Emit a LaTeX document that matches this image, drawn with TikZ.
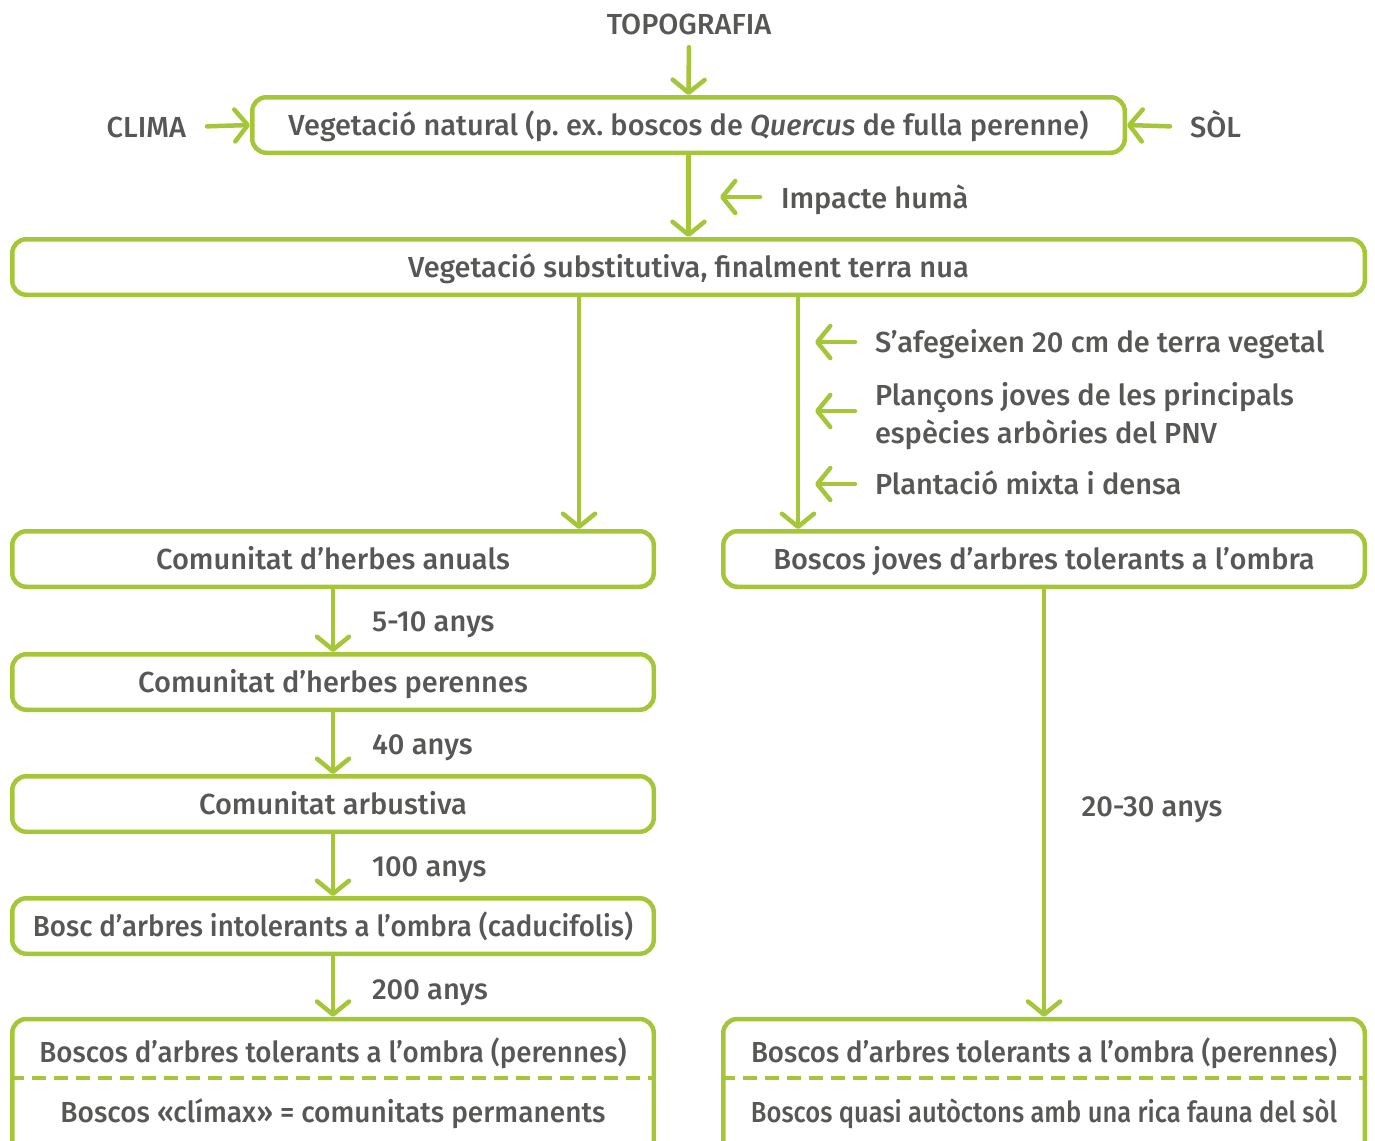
\documentclass[tikz,border=0pt]{standalone}
\usepackage{fontspec}
\usepackage{graphicx}
\IfFontExistsTF{Fira Sans Medium}{%
  \IfFontExistsTF{Fira Sans Medium Italic}{%
    \setmainfont{Fira Sans Medium}[ItalicFont={Fira Sans Medium Italic}]}{%
    \setmainfont{Fira Sans Medium}[ItalicFont={Fira Sans Italic}]}%
  \newcommand{\fsz}{29}}{%
  \setmainfont{Fira Sans}\newcommand{\fsz}{29.5}}
\usetikzlibrary{arrows.meta}
\definecolor{grn}{HTML}{A6C63A}
\definecolor{txt}{HTML}{575756}
\newcommand{\fitw}[2]{\resizebox{#1}{\height}{#2}}
\begin{document}
\begin{tikzpicture}[x=1pt,y=-1pt, font=\fontsize{\fsz}{38}\selectfont, text=txt,
 box/.style={draw=grn, line width=4.5pt, rounded corners=14pt, minimum height=55.5pt, inner sep=0pt, text height=20.3pt, text depth=0pt},
 lbox/.style={box, minimum width=641.5pt},
 arr/.style={draw=grn, line width=4.5pt, line cap=round, -{Straight Barb[length=13pt,width=32pt,line cap=round,line join=round]}},
 lbl/.style={inner sep=0pt, outer sep=0pt, text height=20.3pt, text depth=0pt},
 dsh/.style={draw=grn, line width=4.5pt, dash pattern=on 14pt off 8pt}]
\useasboundingbox (0,0) rectangle (1375,1140);
\clip (0,0) rectangle (1375,1140);
% top
\node[lbl] (topo) at (689,24) {TOPOGRAFIA};
\node[box, minimum width=872.5pt] (b1) at (688.5,125) {\fitw{800pt}{Vegetació natural (p.\ ex.\ boscos de \textit{Quercus} de fulla perenne)}};
\node[lbl, anchor=east] (clima) at (186,127) {CLIMA};
\node[lbl, anchor=west] (sol) at (1190,127) {SÒL};
\node[lbl, anchor=west] (imp) at (781,198) {Impacte humà};
\node[box, minimum width=1352.5pt] (b2) at (688.5,267) {Vegetació substitutiva, finalment terra nua};
\draw[arr, shorten <=13pt] (topo.south) -- (b1.north);
\draw[arr, shorten <=21pt] (clima.east) -- (b1.west);
\draw[arr, shorten <=20pt] (sol.west) -- (b1.east);
\draw[arr] (b1.south) -- (b2.north);
\coordinate (ih) at (720,197);
\draw[arr, shorten <=21pt] (imp.west |- ih) -- (ih);
% left column
\node[lbox] (l1) at (333,559) {Comunitat d’herbes anuals};
\node[lbox] (l2) at (333,682) {Comunitat d’herbes perennes};
\node[lbox] (l3) at (333,804) {Comunitat arbustiva};
\node[lbox] (l4) at (333,926) {\fitw{600pt}{Bosc d’arbres intolerants a l’ombra (caducifolis)}};
\node[lbox, minimum height=140pt] (l5) at (333,1089) {};
\node[lbl] (l5a) at (333,1052) {\fitw{587pt}{Boscos d’arbres tolerants a l’ombra (perennes)}};
\node[lbl] (l5b) at (333,1112) {\fitw{545pt}{Boscos «clímax» = comunitats permanents}};
\draw[dsh] ([yshift=-61pt]l5.north west) -- ([yshift=-61pt]l5.north east);
\draw[arr] (b2.south -| 579,0) -- (l1.north -| 579,0);
\draw[arr] (l1.south) -- (l2.north);
\draw[arr] (l2.south) -- (l3.north);
\draw[arr] (l3.south) -- (l4.north);
\draw[arr] (l4.south) -- (l5.north);
\node[lbl, anchor=west] (y1) at (372,621) {5-10 anys};
\node[lbl, anchor=west] (y2) at (372,744) {40 anys};
\node[lbl, anchor=west] (y3) at (372,866) {100 anys};
\node[lbl, anchor=west] (y4) at (372,989) {200 anys};
% right column
\node[lbox] (r1) at (1044,559) {Boscos joves d’arbres tolerants a l’ombra};
\node[lbox, minimum height=140pt] (r5) at (1044,1089) {};
\node[lbl] (r5a) at (1044,1052) {\fitw{586pt}{Boscos d’arbres tolerants a l’ombra (perennes)}};
\node[lbl] (r5b) at (1044,1112) {\fitw{586pt}{Boscos quasi autòctons amb una rica fauna del sòl}};
\draw[dsh] ([yshift=-61pt]r5.north west) -- ([yshift=-61pt]r5.north east);
\draw[arr] (b2.south -| 798,0) -- (r1.north -| 798,0);
\draw[arr] (r1.south) -- (r5.north);
\node[lbl] (y5) at (1152,806) {20-30 anys};
\node[lbl, anchor=west] (t1) at (875,342) {S’afegeixen 20 cm de terra vegetal};
\node[lbl, anchor=west] (t2) at (875,395) {Plançons joves de les principals};
\node[lbl, anchor=west] (t2b) at (875,433) {espècies arbòries del PNV};
\node[lbl, anchor=west] (t3) at (875,484) {Plantació mixta i densa};
\coordinate (s1) at (815,342);
\coordinate (s2) at (815,411);
\coordinate (s3) at (815,484);
\draw[arr, shorten <=20pt] (t1.west |- s1) -- (s1);
\draw[arr, shorten <=20pt] (t2.west |- s2) -- (s2);
\draw[arr, shorten <=20pt] (t3.west |- s3) -- (s3);
\end{tikzpicture}
\end{document}
